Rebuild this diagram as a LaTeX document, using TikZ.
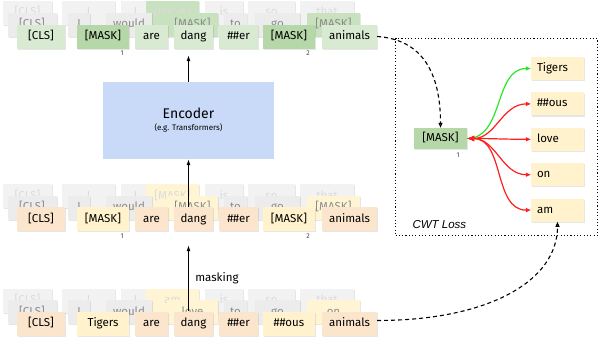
\documentclass[tikz,border=0pt]{standalone}
\usepackage{fontspec}
\setmainfont{Fira Sans}
\newfontfamily\cwtfont{Liberation Sans}
\usetikzlibrary{positioning,arrows.meta,shadows}

\definecolor{grnlight}{HTML}{D9EAD3}
\definecolor{grnmask}{HTML}{B6D7A8}
\definecolor{peach}{HTML}{FCE5CD}
\definecolor{yell}{HTML}{FFF2CC}
\definecolor{encblue}{HTML}{C9DAF8}
\definecolor{gmid}{HTML}{ECECEC}
\definecolor{gfar}{HTML}{F2F2F2}
\colorlet{grnfar}{grnmask!75!white}
\colorlet{yelfar}{yell!85!white}

\begin{document}
\begin{tikzpicture}[
  x=1pt, y=-1pt,
  font=\fontsize{11.5}{13}\selectfont,
  tok/.style={inner sep=0pt, minimum height=24pt, text height=8.5pt, text depth=2.5pt,
    drop shadow={shadow xshift=1.2pt, shadow yshift=-1.2pt, opacity=0.2}},
  tokmid/.style={tok, text=black!45},
  tokfar/.style={tok, text=black!14},
  idx/.style={font=\fontsize{7}{8}\selectfont, text=black!70, inner sep=0pt},
  cand/.style={tok, fill=yell, minimum width=53pt, minimum height=23pt, text width=41pt, align=left},
  arr/.style={-{Latex[length=6pt,width=4pt]}, line width=1pt},
  dasharr/.style={-{Triangle[open,length=5pt,width=4pt]}, line width=1.1pt, dash pattern=on 4pt off 3pt},
  grnarr/.style={-{Triangle[open,length=5pt,width=4pt]}, line width=1.2pt, draw={rgb,255:red,40;green,230;blue,40}},
  redarr/.style={{Latex[length=7pt,width=6pt]}-{Triangle[open,length=5pt,width=4pt]}, line width=1.2pt, draw={rgb,255:red,255;green,30;blue,30}}
]
\useasboundingbox (0,0) rectangle (598,340);

% --- top: encoder output ---
\foreach \cx/\ww/\txt/\col [count=\i] in {27.5/49/{[CLS]}/gfar, 88.5/53/I/gfar, 135.5/29/I/gfar, 172.5/53/{[MASK]}/grnfar, 224/38/is/gfar, 271.5/47/so/gfar, 327/54/that/gfar}
  \node[tokfar, fill=\col, minimum width=\ww] (af\i) at (\cx,13) {\txt};
\foreach \cx/\ww/\txt/\col [count=\i] in {32/49/{[CLS]}/gmid, 79/22/I/gmid, 129/46/would/gmid, 192.5/51/{[MASK]}/grnfar, 235.5/23/to/gmid, 277.5/45/go/gmid, 333.5/53/{[MASK]}/grnfar}
  \node[tokmid, fill=\col, minimum width=\ww] (am\i) at (\cx,24.5) {\txt};
\foreach \cx/\ww/\txt/\col [count=\i] in {41/48/{[CLS]}/grnlight, 103/52/{[MASK]}/grnmask, 151.5/33/are/grnlight, 193.5/39/dang/grnlight, 238.5/39/\#\#er/grnlight, 289/52/{[MASK]}/grnmask, 349.5/55/animals/grnlight}
  \node[tok, fill=\col, minimum width=\ww] (a\i) at (\cx,36.5) {\txt};
\node[idx] (ia2) at ([xshift=-7pt,yshift=-4.5pt]a2.south east) {1};
\node[idx] (ia6) at ([xshift=-7pt,yshift=-4.5pt]a6.south east) {2};

% --- encoder ---
\node[fill=encblue, minimum width=171pt, minimum height=77pt, align=center] (enc) at (188.5,120.5)
  {{\fontsize{14}{16}\selectfont Encoder}\\[-1pt]{\fontsize{8}{9}\selectfont (e.g. Transformers)}};

% --- middle: masked input ---
\foreach \cx/\ww/\txt/\col [count=\i] in {27.5/49/{[CLS]}/gfar, 88.5/53/I/gfar, 135.5/29/I/gfar, 172.5/53/{[MASK]}/yelfar, 224/38/is/gfar, 271.5/47/so/gfar, 327/54/that/gfar}
  \node[tokfar, fill=\col, minimum width=\ww] (bf\i) at (\cx,196) {\txt};
\foreach \cx/\ww/\txt/\col [count=\i] in {32/49/{[CLS]}/gmid, 79/22/I/gmid, 129/46/would/gmid, 192.5/51/{[MASK]}/yelfar, 235.5/23/to/gmid, 277.5/45/go/gmid, 333.5/53/{[MASK]}/yelfar}
  \node[tokmid, fill=\col, minimum width=\ww] (bm\i) at (\cx,207.5) {\txt};
\foreach \cx/\ww/\txt/\col [count=\i] in {41/48/{[CLS]}/peach, 103/52/{[MASK]}/yell, 151.5/33/are/peach, 193.5/39/dang/peach, 238.5/39/\#\#er/peach, 289/52/{[MASK]}/yell, 349.5/55/animals/peach}
  \node[tok, fill=\col, minimum width=\ww] (b\i) at (\cx,219) {\txt};
\node[idx] (ib2) at ([xshift=-7pt,yshift=-4.5pt]b2.south east) {1};
\node[idx] (ib6) at ([xshift=-7pt,yshift=-4.5pt]b6.south east) {2};

% --- bottom: original input ---
\foreach \cx/\ww/\txt/\col [count=\i] in {27.5/49/{[CLS]}/gfar, 88.5/53/I/gfar, 135.5/29/I/gfar, 172.5/53/am/yelfar, 224/38/is/gfar, 271.5/47/so/gfar, 327/54/that/gfar}
  \node[tokfar, fill=\col, minimum width=\ww] (cf\i) at (\cx,300.5) {\txt};
\foreach \cx/\ww/\txt/\col [count=\i] in {32/49/{[CLS]}/gmid, 79/22/I/gmid, 129/46/would/gmid, 192.5/51/love/yelfar, 235.5/23/to/gmid, 277.5/45/go/gmid, 333.5/53/on/yelfar}
  \node[tokmid, fill=\col, minimum width=\ww] (cm\i) at (\cx,312) {\txt};
\foreach \cx/\ww/\txt/\col [count=\i] in {41/48/{[CLS]}/peach, 103/52/Tigers/yell, 151.5/33/are/peach, 193.5/39/dang/peach, 238.5/39/\#\#er/peach, 289/52/\#\#ous/yell, 349.5/55/animals/peach}
  \node[tok, fill=\col, minimum width=\ww] (c\i) at (\cx,323.5) {\txt};

\draw[arr] (enc.north) -- ([yshift=-6.5pt]enc.north |- a4.south);
\draw[arr] (enc.south |- b4.north) -- (enc.south);
\draw[arr] (enc.south |- c4.north) -- node[right=3pt] (mlab) {masking} ([yshift=-14pt]enc.south |- b4.south);

% --- CWT loss ---
\node[draw, line width=1.1pt, dash pattern=on 1.1pt off 2.2pt, minimum width=202pt, minimum height=197pt, inner sep=0pt, anchor=north west] (cwt) at (395,38) {};
\node[anchor=south west, font=\cwtfont\itshape\fontsize{11.5}{13}\selectfont] (cwtlab) at ([xshift=14pt,yshift=4pt]cwt.south west) {CWT Loss};

\node[tok, fill=grnmask, minimum width=53pt, minimum height=21pt] (mk) at (440.5,138.5) {[MASK]};
\node[idx] (imk) at ([xshift=-9pt,yshift=-5.5pt]mk.south east) {1};

\node[cand] (tig) at (557.5,68.5) {Tigers};
\node[cand, below=12pt of tig] (ous) {\#\#ous};
\node[cand, below=12pt of ous] (love) {love};
\node[cand, below=12pt of love] (on) {on};
\node[cand, below=12pt of on] (am) {am};

\draw[grnarr] (mk.east) to[out=0,in=180] (tig.west);
\foreach \n in {ous,love,on,am}
  \draw[redarr] (mk.east) to[out=0,in=180] (\n.west);

\draw[dasharr] (a7.east) .. controls +(45,3) and +(0,-55) .. (mk.north);
\draw[dasharr] ([yshift=3pt]c7.east) .. controls +(110,0) and +(0,60) .. (am.south);

\end{tikzpicture}
\end{document}
